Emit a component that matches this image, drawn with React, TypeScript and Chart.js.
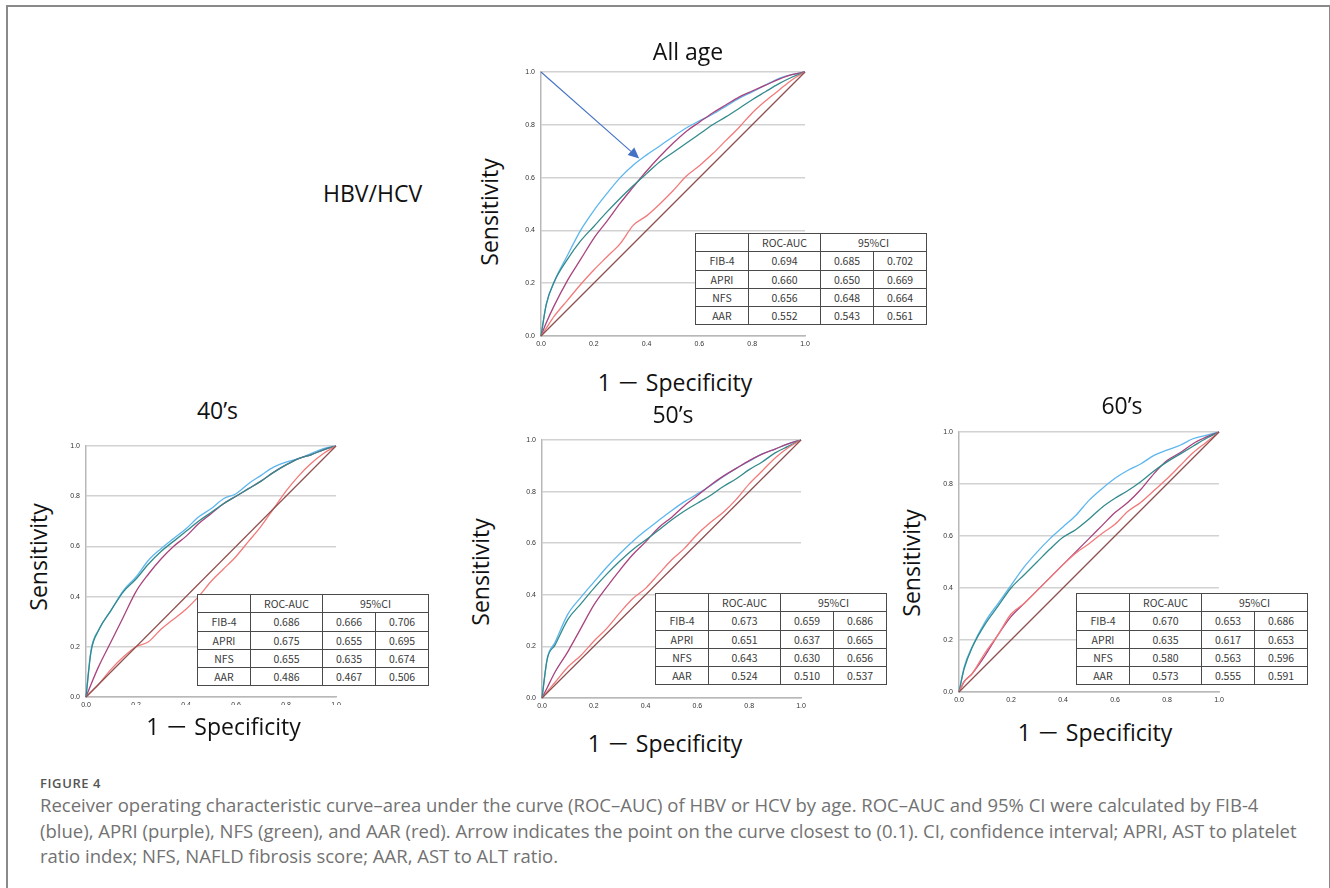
import React, { useEffect, useRef } from "react";
import { Chart, registerables } from "chart.js";

Chart.register(...registerables);

// ---------- DATA ----------
const FPR = [0, 0.02, 0.05, 0.1, 0.15, 0.2, 0.25, 0.3, 0.35, 0.4, 0.45, 0.5, 0.55, 0.6, 0.65, 0.7, 0.75, 0.8, 0.85, 0.9, 0.95, 1];

// All age
const ALL_FIB4 = [0, 0.12, 0.205, 0.305, 0.4, 0.475, 0.54, 0.6, 0.648, 0.686, 0.72, 0.755, 0.788, 0.815, 0.84, 0.87, 0.9, 0.925, 0.95, 0.975, 0.99, 1];
const ALL_APRI = [0, 0.05, 0.115, 0.21, 0.29, 0.37, 0.435, 0.503, 0.565, 0.625, 0.68, 0.73, 0.775, 0.81, 0.845, 0.875, 0.905, 0.928, 0.95, 0.972, 0.99, 1];
const ALL_NFS = [0, 0.12, 0.205, 0.29, 0.36, 0.415, 0.47, 0.522, 0.57, 0.615, 0.66, 0.695, 0.73, 0.765, 0.8, 0.83, 0.862, 0.895, 0.925, 0.955, 0.98, 1];
const ALL_AAR = [0, 0.03, 0.075, 0.135, 0.195, 0.25, 0.3, 0.35, 0.42, 0.455, 0.5, 0.55, 0.605, 0.645, 0.69, 0.74, 0.79, 0.845, 0.89, 0.93, 0.97, 1];

// 40's
const A40_FIB4 = [0, 0.186, 0.266, 0.345, 0.425, 0.478, 0.545, 0.591, 0.631, 0.67, 0.717, 0.75, 0.79, 0.81, 0.85, 0.883, 0.916, 0.936, 0.95, 0.97, 0.99, 1];
const A40_APRI = [0, 0.05, 0.12, 0.22, 0.32, 0.42, 0.49, 0.55, 0.6, 0.64, 0.69, 0.73, 0.77, 0.8, 0.83, 0.86, 0.895, 0.925, 0.95, 0.965, 0.985, 1];
const A40_NFS = [0, 0.18, 0.265, 0.345, 0.42, 0.47, 0.53, 0.58, 0.62, 0.66, 0.7, 0.735, 0.77, 0.8, 0.83, 0.86, 0.895, 0.925, 0.95, 0.965, 0.985, 1];
const A40_AAR = [0, 0.02, 0.05, 0.11, 0.16, 0.2, 0.22, 0.27, 0.31, 0.35, 0.4, 0.46, 0.51, 0.56, 0.62, 0.68, 0.75, 0.82, 0.88, 0.93, 0.97, 1];

// 50's
const A50_FIB4 = [0, 0.152, 0.215, 0.325, 0.39, 0.449, 0.507, 0.559, 0.607, 0.649, 0.688, 0.726, 0.761, 0.791, 0.823, 0.858, 0.89, 0.918, 0.946, 0.965, 0.985, 1];
const A50_APRI = [0, 0.04, 0.1, 0.18, 0.27, 0.36, 0.43, 0.495, 0.555, 0.605, 0.66, 0.7, 0.745, 0.785, 0.825, 0.86, 0.89, 0.92, 0.945, 0.965, 0.985, 1];
const A50_NFS = [0, 0.15, 0.205, 0.305, 0.365, 0.425, 0.48, 0.53, 0.575, 0.612, 0.65, 0.69, 0.725, 0.755, 0.785, 0.82, 0.85, 0.885, 0.915, 0.95, 0.975, 1];
const A50_AAR = [0, 0.025, 0.06, 0.12, 0.165, 0.22, 0.27, 0.33, 0.385, 0.425, 0.48, 0.535, 0.58, 0.635, 0.68, 0.72, 0.77, 0.83, 0.88, 0.93, 0.97, 1];

// 60's
const A60_FIB4 = [0, 0.096, 0.173, 0.269, 0.34, 0.41, 0.48, 0.538, 0.59, 0.635, 0.68, 0.737, 0.782, 0.822, 0.853, 0.878, 0.91, 0.93, 0.949, 0.974, 0.987, 1];
const A60_APRI = [0, 0.04, 0.07, 0.14, 0.22, 0.29, 0.34, 0.39, 0.44, 0.49, 0.54, 0.59, 0.64, 0.69, 0.73, 0.78, 0.84, 0.89, 0.92, 0.955, 0.98, 1];
const A60_NFS = [0, 0.09, 0.17, 0.26, 0.33, 0.4, 0.45, 0.5, 0.55, 0.595, 0.625, 0.665, 0.71, 0.745, 0.775, 0.81, 0.85, 0.885, 0.915, 0.945, 0.975, 1];
const A60_AAR = [0, 0.04, 0.07, 0.15, 0.22, 0.3, 0.34, 0.39, 0.44, 0.49, 0.535, 0.57, 0.61, 0.645, 0.695, 0.73, 0.775, 0.82, 0.87, 0.92, 0.96, 1];

const DIAG_X = [0, 1];
const DIAG_Y = [0, 1];

const ARROW_FROM = [0, 1];
const ARROW_TO = [0.372, 0.672];

const TICKS = [0, 0.2, 0.4, 0.6, 0.8, 1.0];

const ROW_LABELS = ["FIB-4", "APRI", "NFS", "AAR"];
const ALL_AUC = ["0.694", "0.660", "0.656", "0.552"];
const ALL_LO = ["0.685", "0.650", "0.648", "0.543"];
const ALL_HI = ["0.702", "0.669", "0.664", "0.561"];
const A40_AUC = ["0.686", "0.675", "0.655", "0.486"];
const A40_LO = ["0.666", "0.655", "0.635", "0.467"];
const A40_HI = ["0.706", "0.695", "0.674", "0.506"];
const A50_AUC = ["0.673", "0.651", "0.643", "0.524"];
const A50_LO = ["0.659", "0.637", "0.630", "0.510"];
const A50_HI = ["0.686", "0.665", "0.656", "0.537"];
const A60_AUC = ["0.670", "0.635", "0.580", "0.573"];
const A60_LO = ["0.653", "0.617", "0.563", "0.555"];
const A60_HI = ["0.686", "0.653", "0.596", "0.591"];

// ---------- STYLE ----------
const COL_FIB4 = "#5db6ee";
const COL_APRI = "#a8437d";
const COL_NFS = "#338a8c";
const COL_AAR = "#f37a7a";
const COL_DIAG = "#8e4e4e";
const COL_ARROW = "#4472c4";
const TITLE_FONT = "'Open Sans', 'Noto Sans CJK JP', sans-serif";
const TABLE_FONT = "'Noto Sans CJK JP', 'Noto Sans', sans-serif";

const AX_W = 30;
const AX_H = 20;
const PAD_T = 14;
const PAD_R = 12;

const arrowPlugin = {
  id: "arrowPlugin",
  afterDatasetsDraw(chart: any, _args: any, opts: any) {
    if (!opts || !opts.enabled) return;
    const { ctx, scales } = chart;
    const x0 = scales.x.getPixelForValue(ARROW_FROM[0]);
    const y0 = scales.y.getPixelForValue(ARROW_FROM[1]);
    const x1 = scales.x.getPixelForValue(ARROW_TO[0]);
    const y1 = scales.y.getPixelForValue(ARROW_TO[1]);
    const ang = Math.atan2(y1 - y0, x1 - x0);
    const L = 11, W = 5;
    const bx = x1 - L * Math.cos(ang);
    const by = y1 - L * Math.sin(ang);
    ctx.save();
    ctx.strokeStyle = COL_ARROW;
    ctx.fillStyle = COL_ARROW;
    ctx.lineWidth = 1.1;
    ctx.beginPath();
    ctx.moveTo(x0, y0);
    ctx.lineTo(bx, by);
    ctx.stroke();
    ctx.beginPath();
    ctx.moveTo(x1, y1);
    ctx.lineTo(bx + W * Math.sin(ang), by - W * Math.cos(ang));
    ctx.lineTo(bx - W * Math.sin(ang), by + W * Math.cos(ang));
    ctx.closePath();
    ctx.fill();
    ctx.restore();
  },
};

type Panel = {
  left: number;
  top: number;
  w: number;
  h: number;
  series: number[][];
  arrow?: boolean;
};

function RocChart({ left, top, w, h, series, arrow }: Panel) {
  const ref = useRef<HTMLCanvasElement | null>(null);
  useEffect(() => {
    if (!ref.current) return;
    const cols = [COL_AAR, COL_NFS, COL_APRI, COL_FIB4];
    const order = [series[3], series[2], series[1], series[0]];
    const datasets: any[] = order.map((s, k) => ({
      data: FPR.map((x, i) => ({ x, y: s[i] })),
      borderColor: cols[k],
      borderWidth: 1.3,
      pointRadius: 0,
      fill: false,
      cubicInterpolationMode: "monotone",
      clip: 3,
    }));
    datasets.unshift({
      data: DIAG_X.map((x, i) => ({ x, y: DIAG_Y[i] })),
      borderColor: COL_DIAG,
      borderWidth: 1.2,
      pointRadius: 0,
      fill: false,
      clip: 3,
    });
    const tickFont = { size: 7, family: "'Liberation Sans', Arial, sans-serif" };
    const chart = new Chart(ref.current, {
      type: "line",
      data: { datasets },
      plugins: [arrowPlugin],
      options: {
        animation: false,
        responsive: false,
        devicePixelRatio: 1,
        layout: { padding: { top: PAD_T, right: PAD_R, left: 0, bottom: 0 } },
        plugins: {
          legend: { display: false },
          tooltip: { enabled: false },
          arrowPlugin: { enabled: !!arrow },
        } as any,
        scales: {
          x: {
            type: "linear",
            min: 0,
            max: 1,
            afterBuildTicks: (s: any) => {
              s.ticks = TICKS.map((v) => ({ value: v }));
            },
            ticks: {
              callback: (v: any) => Number(v).toFixed(1),
              font: tickFont,
              color: "#333",
              padding: 4,
              maxRotation: 0,
              autoSkip: false,
            },
            grid: { display: false, drawTicks: false, tickLength: 0 },
            border: { display: true, color: "#b8b8b8", width: 1.5 },
            afterFit: (s: any) => {
              s.height = AX_H;
            },
          },
          y: {
            type: "linear",
            min: 0,
            max: 1,
            afterBuildTicks: (s: any) => {
              s.ticks = TICKS.map((v) => ({ value: v }));
            },
            ticks: {
              callback: (v: any) => Number(v).toFixed(1),
              font: tickFont,
              color: "#333",
              padding: 6,
              autoSkip: false,
            },
            grid: { color: "#d2d2d2", lineWidth: 1.5, drawTicks: false, tickLength: 0 },
            border: { display: true, color: "#b8b8b8", width: 1.5 },
            afterFit: (s: any) => {
              s.width = AX_W;
            },
          },
        },
      } as any,
    });
    return () => chart.destroy();
  }, []);
  const cw = w + AX_W + PAD_R;
  const ch = h + AX_H + PAD_T;
  return (
    <canvas
      ref={ref}
      width={cw}
      height={ch}
      style={{ position: "absolute", left: left - AX_W, top: top - PAD_T, width: cw, height: ch }}
    />
  );
}

function AucTable({ left, top, auc, lo, hi }: { left: number; top: number; auc: string[]; lo: string[]; hi: string[] }) {
  const cell: React.CSSProperties = {
    border: "1px solid #4a4a4a",
    padding: 0,
    height: 17.3,
    textAlign: "center",
    fontFamily: TABLE_FONT,
    fontSize: 10.5,
    color: "#3a3a3a",
    lineHeight: "17px",
    whiteSpace: "nowrap",
  };
  return (
    <table
      style={{
        position: "absolute",
        left,
        top,
        width: 231,
        height: 92,
        borderCollapse: "collapse",
        background: "#fff",
        tableLayout: "fixed",
      }}
    >
      <colgroup>
        <col style={{ width: 53 }} />
        <col style={{ width: 72 }} />
        <col style={{ width: 53 }} />
        <col style={{ width: 53 }} />
      </colgroup>
      <tbody>
        <tr>
          <td style={cell}></td>
          <td style={cell}>ROC-AUC</td>
          <td style={cell} colSpan={2}>95%CI</td>
        </tr>
        {ROW_LABELS.map((r, i) => (
          <tr key={r}>
            <td style={cell}>{r}</td>
            <td style={cell}>{auc[i]}</td>
            <td style={cell}>{lo[i]}</td>
            <td style={cell}>{hi[i]}</td>
          </tr>
        ))}
      </tbody>
    </table>
  );
}

const FS = 23;
function Label({ cx, base, text, left }: { cx?: number; base: number; text: string; left?: number }) {
  const st: React.CSSProperties = {
    position: "absolute",
    top: base - 0.888 * FS,
    fontFamily: TITLE_FONT,
    fontSize: FS,
    lineHeight: `${FS}px`,
    color: "#111",
    whiteSpace: "pre",
  };
  if (left !== undefined) st.left = left;
  else {
    st.left = cx;
    st.transform = "translateX(-50%)";
  }
  return <div style={st}>{text}</div>;
}

function VLabel({ cx, cy }: { cx: number; cy: number }) {
  return (
    <div
      style={{
        position: "absolute",
        left: cx,
        top: cy,
        transform: "translate(-50%, -50%) rotate(-90deg)",
        fontFamily: TITLE_FONT,
        fontSize: FS,
        lineHeight: `${FS}px`,
        color: "#111",
        whiteSpace: "nowrap",
      }}
    >
      Sensitivity
    </div>
  );
}

const SPEC_LABEL = "1 － Specificity";

const CAPTION_LINES = [
  "Receiver operating characteristic curve–area under the curve (ROC–AUC) of HBV or HCV by age. ROC–AUC and 95% CI were calculated by FIB-4",
  "(blue), APRI (purple), NFS (green), and AAR (red). Arrow indicates the point on the curve closest to (0.1). CI, confidence interval; APRI, AST to platelet",
  "ratio index; NFS, NAFLD fibrosis score; AAR, AST to ALT ratio.",
];

export default function App() {
  return (
    <div
      style={{
        position: "absolute",
        left: 0,
        top: 0,
        width: 1330,
        height: 888,
        overflow: "hidden",
        background: "#fff",
      }}
    >
      <div
        style={{
          position: "absolute",
          left: 6,
          top: 5,
          width: 1321,
          height: 950,
          border: "2px solid #8a8a8a",
        }}
      />

      <RocChart left={541} top={72} w={264} h={264} series={[ALL_FIB4, ALL_APRI, ALL_NFS, ALL_AAR]} arrow />
      <RocChart left={86} top={446} w={250} h={251} series={[A40_FIB4, A40_APRI, A40_NFS, A40_AAR]} />
      <RocChart left={542} top={440} w={259} h={258} series={[A50_FIB4, A50_APRI, A50_NFS, A50_AAR]} />
      <RocChart left={959} top={432} w={260} h={260} series={[A60_FIB4, A60_APRI, A60_NFS, A60_AAR]} />

      <div style={{ position: "absolute", left: 96, top: 705, width: 250, height: 8, background: "#fff" }} />

      <AucTable left={695} top={233} auc={ALL_AUC} lo={ALL_LO} hi={ALL_HI} />
      <AucTable left={197} top={594} auc={A40_AUC} lo={A40_LO} hi={A40_HI} />
      <AucTable left={655} top={593} auc={A50_AUC} lo={A50_LO} hi={A50_HI} />
      <AucTable left={1076} top={593} auc={A60_AUC} lo={A60_LO} hi={A60_HI} />

      <Label cx={688} base={60} text="All age" />
      <Label left={323} base={202} text="HBV/HCV" />
      <Label cx={675} base={391} text={SPEC_LABEL} />
      <Label cx={217.5} base={419} text="40’s" />
      <Label cx={673} base={423} text="50’s" />
      <Label cx={1122} base={414} text="60’s" />
      <Label cx={223.5} base={735.5} text={SPEC_LABEL} />
      <Label cx={665} base={752.5} text={SPEC_LABEL} />
      <Label cx={1095} base={741.5} text={SPEC_LABEL} />

      <VLabel cx={489} cy={212} />
      <VLabel cx={38} cy={557} />
      <VLabel cx={480} cy={572} />
      <VLabel cx={911} cy={563} />

      <div
        style={{
          position: "absolute",
          left: 40,
          top: 776,
          fontFamily: "'Open Sans', sans-serif",
          fontSize: 13,
          lineHeight: "14px",
          color: "#555",
          fontWeight: 600,
          letterSpacing: 0.6,
        }}
      >
        FIGURE 4
      </div>
      <div
        style={{
          position: "absolute",
          left: 40,
          top: 792,
          fontFamily: "'Open Sans', sans-serif",
          fontSize: 18.5,
          lineHeight: "25.5px",
          color: "#727272",
          whiteSpace: "nowrap",
        }}
      >
        {CAPTION_LINES.map((l, i) => (
          <div key={i}>{l}</div>
        ))}
      </div>
    </div>
  );
}
